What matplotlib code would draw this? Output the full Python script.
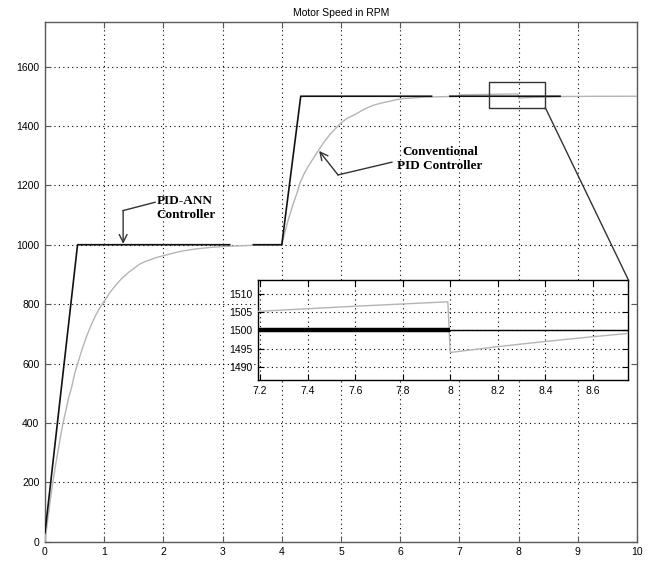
import numpy as np
import matplotlib
matplotlib.use('Agg')
import matplotlib.pyplot as plt
from matplotlib.patches import Rectangle, ConnectionPatch

plt.rcParams['font.family'] = ['Liberation Sans', 'DejaVu Sans']

# Conventional PID response (speed in RPM vs time in s)
pid_t = [0, 0.03, 0.05, 0.08, 0.11, 0.14, 0.18, 0.25, 0.3, 0.35, 0.4, 0.45,
         0.5, 0.56, 0.63, 0.7, 0.78, 0.85, 0.92, 1.0, 1.1, 1.2, 1.3, 1.4,
         1.5, 1.6, 1.7, 1.8, 1.9, 2.0, 2.15, 2.3, 2.45, 2.6, 2.8, 3.0, 3.25,
         3.5, 4.0, 4.05, 4.1, 4.15, 4.2, 4.25, 4.31, 4.38, 4.45, 4.53, 4.62,
         4.7, 4.8, 4.9, 5.0, 5.1, 5.25, 5.4, 5.55, 5.7, 5.8, 5.95, 6.05, 6.2,
         6.4, 6.6, 6.98, 7.0, 7.19, 7.6, 7.99, 8.0, 8.2, 8.4, 8.6, 8.75, 9.2,
         10.0]
pid_rpm = [0, 50, 80, 125, 170, 210, 260, 340, 395, 440, 485, 520,
           565, 605, 650, 690, 730, 760, 785, 810, 840, 865, 887, 905,
           920, 935, 944, 951, 958, 963, 971, 978, 983, 987, 991, 994, 996,
           998, 1000, 1040, 1078, 1110, 1142, 1170, 1210, 1240, 1265, 1290, 1318,
           1342, 1368, 1390, 1410, 1425, 1440, 1457, 1470, 1478, 1482, 1489, 1492, 1494,
           1497, 1498, 1499.5, 1504.5, 1505.2, 1506.6, 1507.8, 1494, 1495.6, 1497.0, 1498.3, 1499.2, 1499.7,
           1500]

# PID-ANN response, NaN marks breaks in the trace
ann_t = [0, 0.55, 3.12, np.nan, 3.52, 4.0, 4.32, 6.53, np.nan, 6.84, 8.7]
ann_rpm = [30, 1000, 1000, np.nan, 1000, 1000, 1500, 1500, np.nan, 1500, 1500]

# PID-ANN trace inside the zoomed window (thick before 8 s, thin after)
ann_zoom_thick_t = [7.0, 8.0]
ann_zoom_thin_t = [8.0, 8.75]
ann_zoom_rpm = [1500, 1500]

zoom_xlim = (7.19, 8.75)
zoom_ylim = (1486.5, 1513.7)
zoom_box_t = (7.5, 8.45)
zoom_box_rpm = (1462, 1548)

x_ticks = list(range(0, 11))
y_ticks = list(range(0, 1601, 200))
zoom_x_ticks = [7.2, 7.4, 7.6, 7.8, 8, 8.2, 8.4, 8.6]
zoom_x_labels = ['7.2', '7.4', '7.6', '7.8', '8', '8.2', '8.4', '8.6']
zoom_y_ticks = [1490, 1495, 1500, 1505, 1510]

black = '#111111'
grey = '#b4b4b4'
frame = '#5a5a5a'
dots = (0, (1, 3))

fig = plt.figure(figsize=(6.54, 5.61), dpi=100)
ax = fig.add_axes([0.0688, 0.0344, 0.9052, 0.9264])

ax.plot(pid_t, pid_rpm, color=grey, lw=1.0, zorder=3)
ax.plot(ann_t, ann_rpm, color=black, lw=1.2, zorder=4)

ax.set_xlim(0, 10)
ax.set_ylim(0, 1750)
ax.set_xticks(x_ticks)
ax.set_yticks(y_ticks)
ax.grid(True, color='black', linestyle=dots, linewidth=0.8)
ax.tick_params(direction='in', length=4, top=True, right=True,
               labelsize=7.5, pad=4, color=frame)
for s in ax.spines.values():
    s.set_color(frame)
    s.set_linewidth(1.0)
ax.set_title('Motor Speed in RPM', fontsize=7.5, pad=4)

# Annotations
serif = dict(family=['Liberation Serif', 'DejaVu Serif'], weight='bold', fontsize=9.5)
ax.text(1.88, 1124, 'PID-ANN\nController', ha='left', va='center',
        linespacing=1.2, **serif)
ax.plot([1.86, 1.32], [1143, 1115], color='#333333', lw=1.0)
ax.annotate('', xy=(1.32, 1003), xytext=(1.32, 1115),
            arrowprops=dict(arrowstyle='->', color='#333333', lw=1.0,
                            shrinkA=0, shrinkB=0, mutation_scale=14))

ax.text(6.67, 1290, 'Conventional\nPID Controller', ha='center', va='center',
        multialignment='center', linespacing=1.2, **serif)
ax.plot([5.86, 4.95], [1278, 1235], color='#333333', lw=1.0)
ax.annotate('', xy=(4.63, 1316), xytext=(4.95, 1235),
            arrowprops=dict(arrowstyle='->', color='#333333', lw=1.0,
                            shrinkA=0, shrinkB=0, mutation_scale=14))

# Zoom box on the main axes
ax.add_patch(Rectangle((zoom_box_t[0], zoom_box_rpm[0]),
                       zoom_box_t[1] - zoom_box_t[0],
                       zoom_box_rpm[1] - zoom_box_rpm[0],
                       fill=False, edgecolor='#333333', lw=1.0, zorder=5))

# Inset with the 7.2 - 8.75 s detail
axins = fig.add_axes([0.394, 0.3226, 0.567, 0.178])
axins.plot(pid_t, pid_rpm, color=grey, lw=1.0, zorder=3)
axins.plot(ann_zoom_thick_t, ann_zoom_rpm, color='black', lw=3.2, zorder=4,
           solid_capstyle='butt')
axins.plot(ann_zoom_thin_t, ann_zoom_rpm, color='black', lw=1.0, zorder=4)
axins.set_xlim(*zoom_xlim)
axins.set_ylim(*zoom_ylim)
axins.set_xticks(zoom_x_ticks)
axins.set_xticklabels(zoom_x_labels)
axins.set_yticks(zoom_y_ticks)
axins.grid(True, color='black', linestyle=dots, linewidth=0.8)
axins.tick_params(direction='in', length=4, top=True, right=True,
                  labelsize=7.5, pad=4)
for s in axins.spines.values():
    s.set_color('black')
    s.set_linewidth(1.0)

con = ConnectionPatch(xyA=(zoom_box_t[1], zoom_box_rpm[0]), coordsA=ax.transData,
                      xyB=(1, 1), coordsB=axins.transAxes,
                      color='#333333', lw=1.0)
fig.add_artist(con)

fig.savefig('out.png', dpi=100)
